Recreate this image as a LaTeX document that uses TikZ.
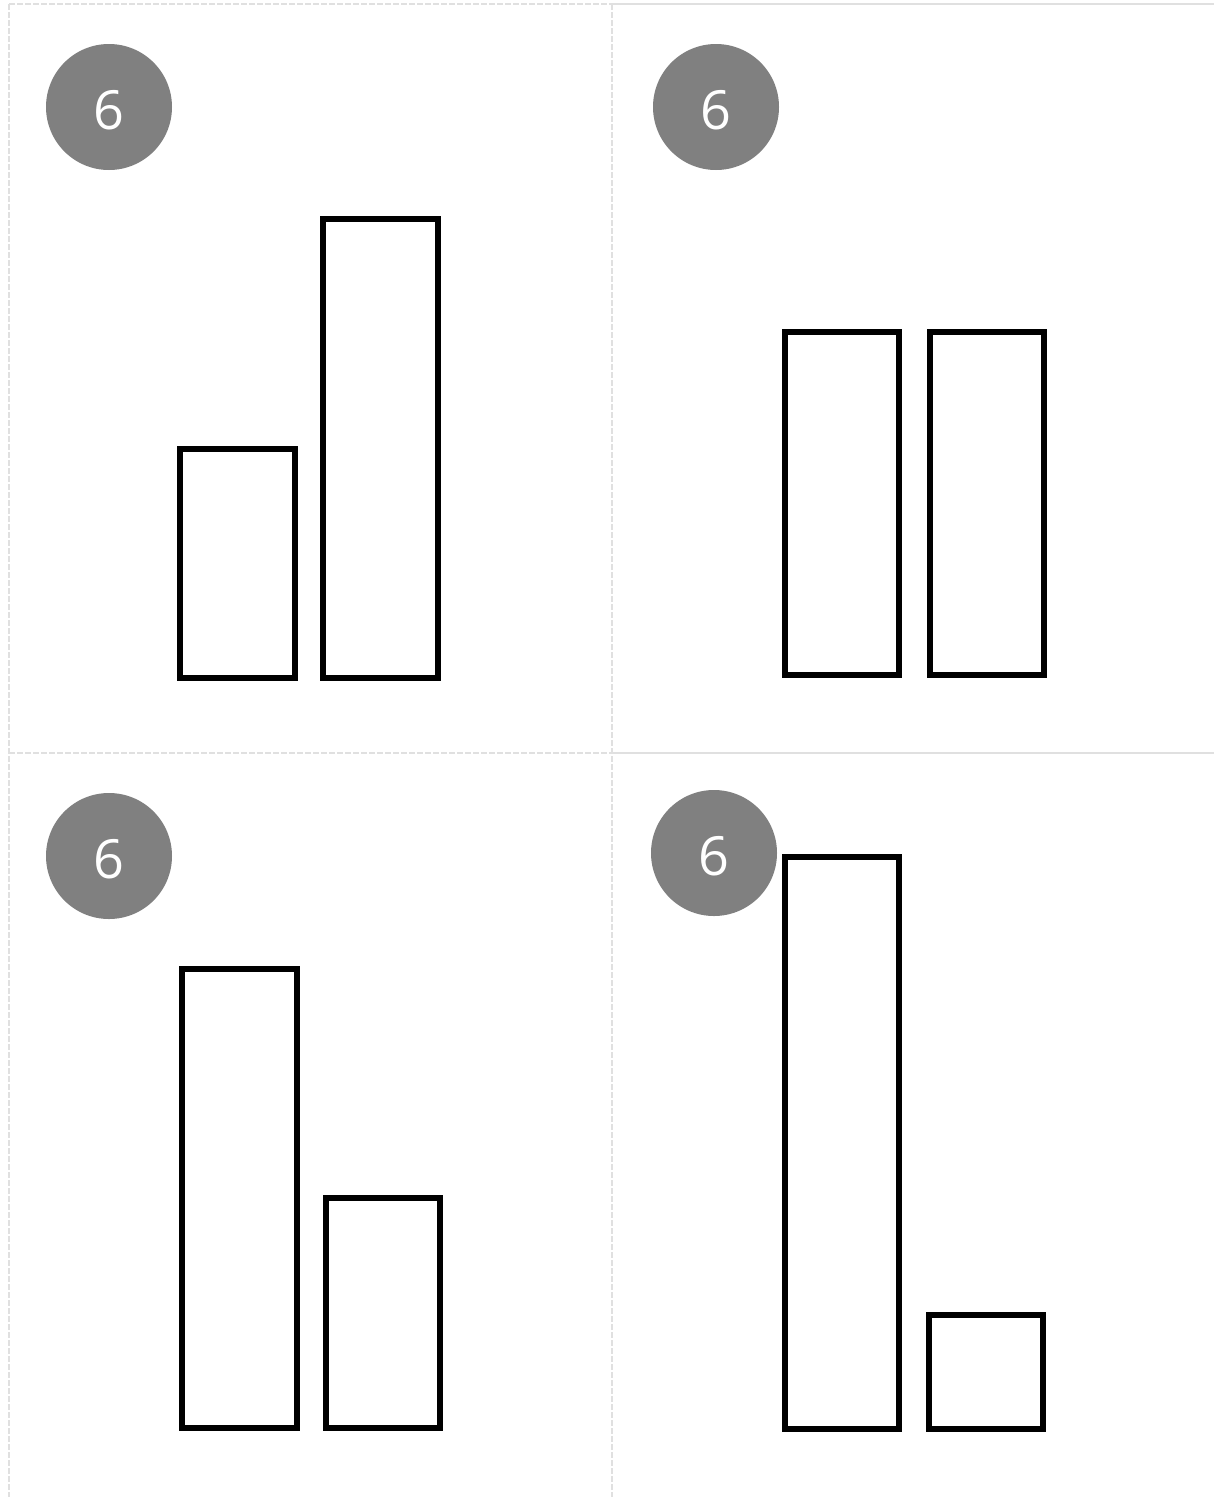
\documentclass[tikz,border=0pt]{standalone}
\usepackage{fontspec}
\setmainfont{Open Sans}
\begin{document}
\begin{tikzpicture}[x=1pt,y=-1pt,
  gridd/.style={draw=black!12,line width=2pt,dash pattern=on 6pt off 2pt},
  grids/.style={draw=black!12,line width=2pt},
  badge/.style={circle,fill=black!50,minimum size=126pt,inner sep=0pt,text=white,
    font=\fontsize{54}{60}\selectfont,text height=44pt,text depth=0pt},
  bar/.style={draw=black,line width=5.5pt,fill=white}]
\useasboundingbox (0,0) rectangle (1214,1497);
\fill[white] (0,0) rectangle (1214,1497);
% grid
\coordinate (tl) at (9,4);
\coordinate (tm) at (612,4);
\coordinate (tr) at (1214,4);
\coordinate (ml) at (9,753);
\coordinate (mm) at (612,753);
\coordinate (mr) at (1214,753);
\coordinate (bl) at (9,1497);
\coordinate (bm) at (612,1497);
\draw[gridd] (tl) -- (tm);
\draw[grids] (tm) -- (tr);
\draw[gridd] (tl) -- (bl);
\draw[gridd] (tm) -- (bm);
\draw[gridd] (ml) -- (mm);
\draw[grids] (mm) -- (mr);
% top-left
\node[badge] (b1) at (109,107) {6};
\draw[bar] (180,449) rectangle (295,678);
\draw[bar] (323,219) rectangle (438,678);
% top-right
\node[badge] (b2) at (716,107) {6};
\draw[bar] (785,332) rectangle (899,675);
\draw[bar] (930,332) rectangle (1044,675);
% bottom-left
\node[badge] (b3) at (109,856) {6};
\draw[bar] (182,969) rectangle (297,1428);
\draw[bar] (326,1198) rectangle (440,1428);
% bottom-right
\draw[bar] (785,857) rectangle (899,1429);
\draw[bar] (929,1315) rectangle (1043,1429);
\node[badge] (b4) at (714,853) {6};
\end{tikzpicture}
\end{document}
